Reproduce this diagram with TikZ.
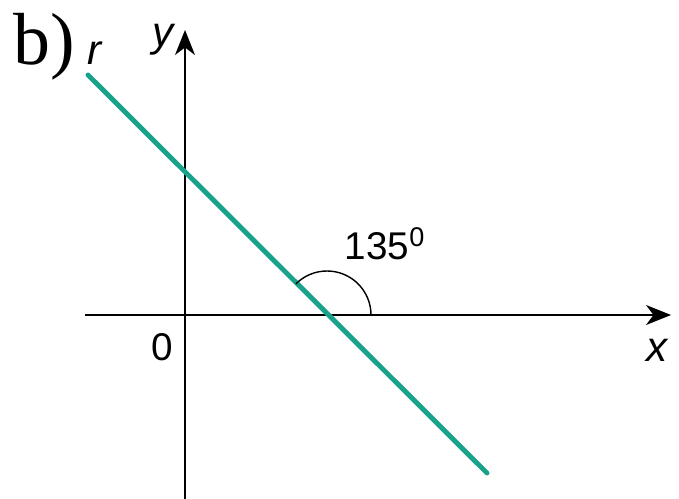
\documentclass[tikz,border=0pt]{standalone}
\usepackage{fontspec}
\setmainfont{Liberation Sans}
\newfontfamily\serifb{Liberation Serif}
\usepackage{tikz}
\usetikzlibrary{arrows.meta,positioning,calc}
\definecolor{linegreen}{RGB}{24,162,140}

\begin{document}
\begin{tikzpicture}[
  axis/.style={line width=1.1pt, -{Stealth[length=5mm,width=4mm,inset=1.5mm]}},
  rline/.style={line width=2.8pt, linegreen, line cap=round},
  anglearc/.style={line width=0.8pt},
  lbl/.style={font=\fontsize{22}{22}\selectfont, inner sep=0pt},
  ilbl/.style={font=\fontsize{24}{24}\selectfont\itshape, inner sep=0pt}
]
\useasboundingbox (-3.7,-3.66) rectangle (9.88,6.3);
\coordinate (O) at (0,0);
\coordinate (xstart) at (-2.0,0);
\coordinate (xend) at (9.72,0);
\coordinate (ystart) at (0,-3.7);
\coordinate (yend) at (0,5.7);
\coordinate (rstart) at (-1.94,4.8);
\coordinate (rend) at (6.04,-3.16);
\coordinate (P) at (2.84,0);

\draw[axis] (xstart) -- (xend);
\draw[axis] (ystart) -- (yend);
\draw[rline] (rstart) -- (rend);
\draw[anglearc] ($(P)+(0.88,0)$) arc[start angle=0, end angle=135, radius=0.88];

\node[lbl] (ang) at (4.0,1.42) {135$^{\mathrm{0}}$};
\node[lbl] (zero) at (-0.46,-0.64) {0};
\node[ilbl] (xlbl) at (9.44,-0.7) {x};
\node[ilbl] (ylbl) at (-0.44,5.5) {y};
\node[ilbl] (rlbl) at (-1.8,5.24) {r};
\node[font=\fontsize{42}{42}\selectfont\serifb, inner sep=0pt] (part) at (-2.82,5.36) {b)};
\end{tikzpicture}
\end{document}
